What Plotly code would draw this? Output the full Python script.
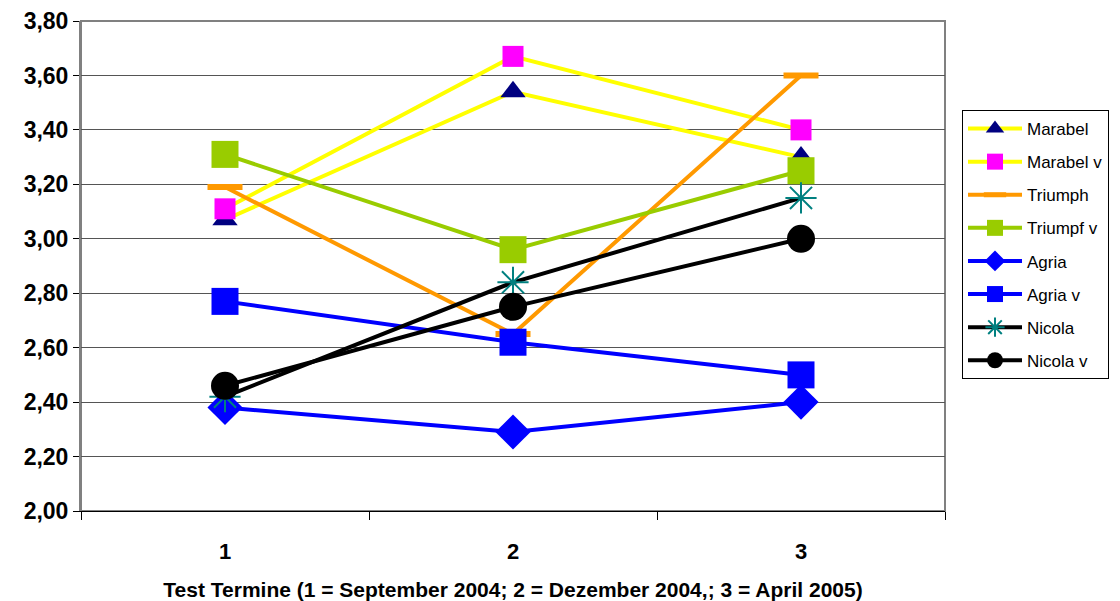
import plotly.graph_objects as go

categories = ["1", "2", "3"]
marabel = [3.07, 3.54, 3.30]
marabel_v = [3.11, 3.67, 3.40]
triumph = [3.19, 2.65, 3.60]
triumpf_v = [3.31, 2.96, 3.25]
agria = [2.38, 2.29, 2.40]
agria_v = [2.77, 2.62, 2.50]
nicola = [2.42, 2.84, 3.15]
nicola_v = [2.46, 2.75, 3.00]
y_ticks = [2.0, 2.2, 2.4, 2.6, 2.8, 3.0, 3.2, 3.4, 3.6, 3.8]
y_ticklabels = ["2,00", "2,20", "2,40", "2,60", "2,80", "3,00", "3,20", "3,40", "3,60", "3,80"]
x_title = "Test Termine (1 = September 2004; 2 = Dezember 2004,; 3 = April 2005)"

FONT = "Arial, Liberation Sans, sans-serif"

series = [
    ("Marabel", marabel, "#FFFF00", dict(symbol="triangle-up", size=22, color="#000080")),
    ("Marabel v", marabel_v, "#FFFF00", dict(symbol="square", size=21, color="#FF00FF")),
    ("Triumph", triumph, "#FF9900", dict(symbol="line-ew", size=25, color="#FF9900",
                                         line=dict(color="#FF9900", width=6))),
    ("Triumpf v", triumpf_v, "#99CC00", dict(symbol="square", size=27, color="#99CC00")),
    ("Agria", agria, "#0000FF", dict(symbol="diamond", size=27, color="#0000FF")),
    ("Agria v", agria_v, "#0000FF", dict(symbol="square", size=27, color="#0000FF")),
    ("Nicola", nicola, "#000000", dict(symbol="asterisk-open", size=26, color="#008080",
                                       line=dict(color="#008080", width=2))),
    ("Nicola v", nicola_v, "#000000", dict(symbol="circle", size=28, color="#000000")),
]

fig = go.Figure()
for i, (name, vals, lc, mk) in enumerate(series):
    fig.add_trace(go.Scatter(
        x=categories, y=vals, name=name, mode="lines+markers",
        line=dict(color=lc, width=4), marker=mk, legendgroup=f"g{i}",
    ))

fig.update_layout(
    width=1120, height=601,
    margin=dict(l=81, r=175, t=21, b=90, autoexpand=False),
    paper_bgcolor="white", plot_bgcolor="white",
    font=dict(family=FONT, color="black"),
    legend=dict(
        x=(962 - 81) / 864, xanchor="left", y=(511 - 110) / 490, yanchor="top",
        bordercolor="black", borderwidth=1, bgcolor="white",
        font=dict(size=17, family=FONT), tracegroupgap=8,
        itemsizing="trace", itemwidth=54,
    ),
    xaxis=dict(
        type="category", range=[-0.5, 2.5], tickson="boundaries",
        ticks="outside", ticklen=8, tickcolor="black", tickwidth=1,
        showline=True, linecolor="black", linewidth=1,
        showgrid=False, automargin=False,
        tickfont=dict(size=22, family=FONT, weight="bold"),
        ticklabelstandoff=21,
        title=dict(text=x_title, font=dict(size=21, family=FONT, weight="bold"), standoff=20),
    ),
    yaxis=dict(
        range=[2.0, 3.8], tickvals=y_ticks, ticktext=y_ticklabels,
        ticks="outside", ticklen=6, tickcolor="black", tickwidth=1,
        showline=True, linecolor="#808080", linewidth=2,
        showgrid=True, gridcolor="#555555", gridwidth=1,
        tickfont=dict(size=23, family=FONT, weight="bold"),
        zeroline=False, automargin=False,
    ),
    shapes=[dict(type="rect", xref="paper", yref="paper", x0=0, x1=1, y0=0, y1=1,
                 line=dict(color="#808080", width=2), layer="below")],
)

fig.write_html("out.html", config={"displayModeBar": False},
               post_script="document.body.style.margin='0';document.body.style.overflow='hidden';")
